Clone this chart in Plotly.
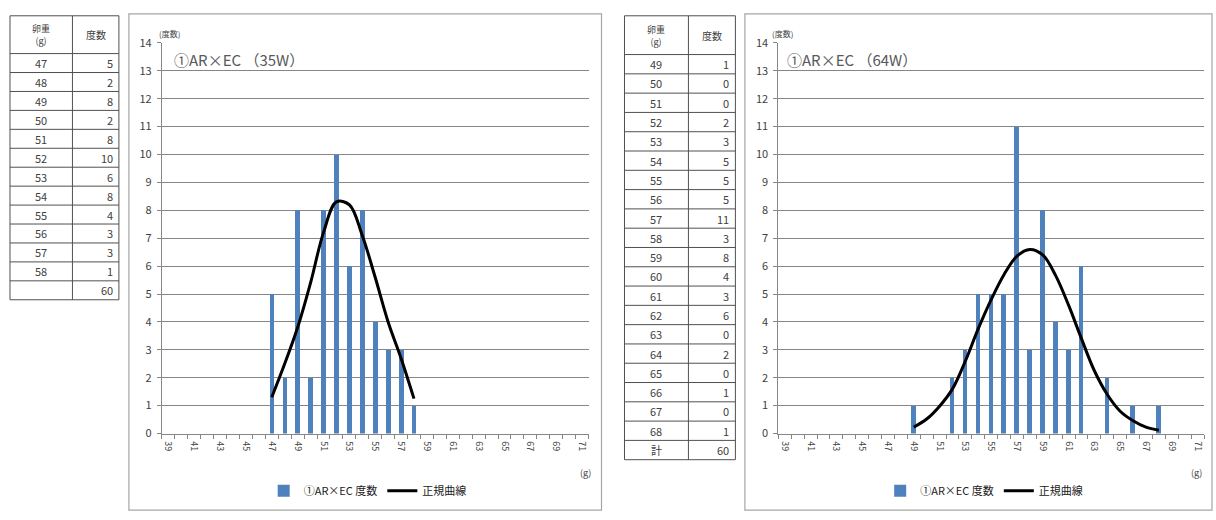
import plotly.graph_objects as go

W, H = 1216, 520

def px(x):
    return x / W

def py(y):
    return 1 - y / H

# ---------------- data ----------------
weights1 = [47, 48, 49, 50, 51, 52, 53, 54, 55, 56, 57, 58]
counts1 = [5, 2, 8, 2, 8, 10, 6, 8, 4, 3, 3, 1]
curve1 = [1.3, 2.5, 3.8, 5.4, 7.2, 8.3, 8.2, 7.1, 5.6, 4.0, 2.7, 1.25]
total1_label = ""
total1 = "60"

weights2 = [49, 50, 51, 52, 53, 54, 55, 56, 57, 58, 59, 60, 61, 62, 63, 64, 65, 66, 67, 68]
counts2 = [1, 0, 0, 2, 3, 5, 5, 5, 11, 3, 8, 4, 3, 6, 0, 2, 0, 1, 0, 1]
curve2 = [0.23, 0.52, 0.98, 1.6, 2.6, 3.76, 4.8, 5.7, 6.36, 6.6, 6.4, 5.66, 4.6, 3.4,
          2.25, 1.4, 0.8, 0.46, 0.23, 0.12]
total2_label = "計"
total2 = "60"

x_tick_vals = [39, 41, 43, 45, 47, 49, 51, 53, 55, 57, 59, 61, 63, 65, 67, 69, 71]
x_tick_text = ["39", "41", "43", "45", "47", "49", "51", "53", "55", "57", "59",
               "61", "63", "65", "67", "69", "71"]
header_col1 = "卵重<br>(g)"
header_col2 = "度数"
title1 = "①AR×EC （35W）"
title2 = "①AR×EC （64W）"
bar_name = "①AR×EC 度数"
curve_name = "正規曲線"

FONT = "Noto Sans CJK JP"
BAR = "#4F81BD"
GRID = "#868686"
TXT = "#404040"
TLINE = "#505050"

fig = go.Figure()
shapes = []
annotations = []

def note(x, y, text, size, xanchor="center", color=TXT):
    annotations.append(dict(x=px(x), y=py(y), xref="paper", yref="paper", text=text,
                            showarrow=False, xanchor=xanchor, yanchor="middle",
                            font=dict(family=FONT, size=size, color=color)))

# ---------------- tables (drawn with lines and text) ----------------
def add_table(labels, values, xl, xm, xr, ytop, yhead, ybot):
    n = len(labels)
    rh = (ybot - yhead) / n
    line = dict(color=TLINE, width=1)
    for xx in (xl, xm, xr):
        shapes.append(dict(type="line", xref="paper", yref="paper",
                           x0=px(xx), x1=px(xx), y0=py(ytop), y1=py(ybot), line=line))
    ys = [ytop, yhead] + [yhead + rh * (i + 1) for i in range(n)]
    for yy in ys:
        shapes.append(dict(type="line", xref="paper", yref="paper",
                           x0=px(xl), x1=px(xr), y0=py(yy), y1=py(yy), line=line))
    note((xl + xm) / 2, (ytop + yhead) / 2, header_col1, 9)
    note((xm + xr) / 2, (ytop + yhead) / 2, header_col2, 10)
    for i, (lab, val) in enumerate(zip(labels, values)):
        yc = yhead + rh * (i + 0.5)
        note((xl + xm) / 2, yc, str(lab), 11)
        note(xr - 4, yc, str(val), 11, xanchor="right")

add_table([str(w) for w in weights1] + [total1_label], [str(c) for c in counts1] + [total1],
          10, 72.5, 119, 7, 46, 300)
add_table([str(w) for w in weights2] + [total2_label], [str(c) for c in counts2] + [total2],
          625, 689, 736, 7, 47, 465)

# ---------------- charts ----------------
fig.add_trace(go.Bar(x=weights1, y=counts1, width=0.36, marker=dict(color=BAR, line=dict(width=0)),
                     name=bar_name, xaxis="x", yaxis="y", legend="legend"))
fig.add_trace(go.Scatter(x=weights1, y=curve1, mode="lines", line=dict(color="black", width=3, shape="spline"),
                         name=curve_name, xaxis="x", yaxis="y", legend="legend"))
fig.add_trace(go.Bar(x=weights2, y=counts2, width=0.36, marker=dict(color=BAR, line=dict(width=0)),
                     name=bar_name, xaxis="x2", yaxis="y2", legend="legend2"))
fig.add_trace(go.Scatter(x=weights2, y=curve2, mode="lines", line=dict(color="black", width=3, shape="spline"),
                         name=curve_name, xaxis="x2", yaxis="y2", legend="legend2"))

def xaxis_cfg(x0, x1, anchor):
    return dict(domain=[px(x0), px(x1)], range=[38.5, 71.5], anchor=anchor,
                tickmode="array", tickvals=x_tick_vals, ticktext=x_tick_text,
                tickangle=90, tickfont=dict(family=FONT, size=9, color=TXT),
                showgrid=False, zeroline=False, showline=True, linecolor=GRID, linewidth=1,
                ticks="", ticklabelstandoff=5,
                minor=dict(tick0=38.5, dtick=1, ticks="outside", ticklen=4, tickcolor=GRID, showgrid=False))

def yaxis_cfg(anchor):
    return dict(domain=[py(438), py(35)], range=[0, 14], anchor=anchor, dtick=1,
                tickfont=dict(family=FONT, size=11, color=TXT),
                showgrid=True, gridcolor=GRID, gridwidth=1, zeroline=False,
                showline=True, linecolor=GRID, linewidth=1,
                ticks="outside", ticklen=4, tickcolor=GRID, ticklabelstandoff=3)

legend_common = dict(orientation="h", xanchor="center", yanchor="middle",
                     font=dict(family=FONT, size=11, color="#202020"),
                     bgcolor="rgba(0,0,0,0)", itemwidth=30, traceorder="normal")

note(157, 25, "(度数)", 8, xanchor="left")
note(172, 52, title1, 15, xanchor="left", color="#595959")
note(586, 478, "(g)", 9)
note(771, 25, "(度数)", 8, xanchor="left")
note(786, 52, title2, 15, xanchor="left", color="#595959")
note(1197, 478, "(g)", 9)

shapes += [
    dict(type="rect", xref="paper", yref="paper", x0=px(129), x1=px(602), y0=py(517), y1=py(5),
         line=dict(color="#A6A6A6", width=1.2)),
    dict(type="rect", xref="paper", yref="paper", x0=px(745.5), x1=px(1213), y0=py(517), y1=py(5),
         line=dict(color="#A6A6A6", width=1.2)),
]

fig.update_layout(
    width=W, height=H, margin=dict(l=0, r=0, t=0, b=0),
    paper_bgcolor="white", plot_bgcolor="white",
    font=dict(family=FONT, color=TXT),
    bargap=0,
    xaxis=xaxis_cfg(162, 589, "y"),
    yaxis=yaxis_cfg("x"),
    xaxis2=xaxis_cfg(779, 1205, "y2"),
    yaxis2=yaxis_cfg("x2"),
    legend=dict(x=px(368), y=py(497), **legend_common),
    legend2=dict(x=px(985), y=py(497), **legend_common),
    annotations=annotations,
    shapes=shapes,
)

fig.write_html(
    "out.html",
    config={"displayModeBar": False},
    post_script=("document.documentElement.style.margin='0px';"
                 "document.documentElement.style.padding='0px';"
                 "document.documentElement.style.overflow='hidden';"
                 "document.body.style.margin='0px';"
                 "document.body.style.padding='0px';"
                 "document.body.style.overflow='hidden';"
                 "var d=document.getElementById('{plot_id}');"
                 "d.style.position='absolute';d.style.left='0px';d.style.top='0px';"),
)
